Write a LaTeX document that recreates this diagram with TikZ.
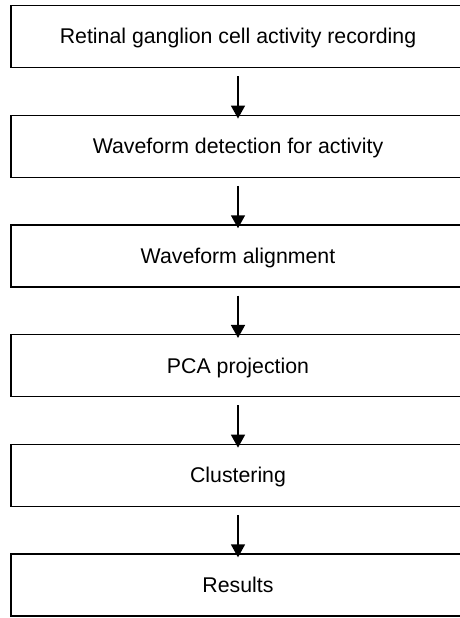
\documentclass[tikz,border=0pt]{standalone}
\usepackage{fontspec}
\setmainfont{Liberation Sans}
\usetikzlibrary{positioning,arrows.meta}

\begin{document}
\begin{tikzpicture}[>/.tip={Triangle[length=13pt,width=14pt]},
    stagebox/.style={draw,line width=1.3pt,minimum width=454pt,minimum height=62pt,inner sep=0pt,
      text height=15pt,text depth=0pt,font=\fontsize{21.3}{25}\selectfont},
    flow/.style={->,line width=1.6pt},
    node distance=46.4pt]
    % The page
    \useasboundingbox (0,0) rectangle (460pt,-618pt);
    % The stages
    \node[stagebox] (rec) at (238pt,-36.5pt) {Retinal ganglion cell activity recording};
    \node[stagebox,below=of rec] (det) {Waveform detection for activity};
    \node[stagebox,below=of det] (align) {Waveform alignment};
    \node[stagebox,below=of align] (pca) {PCA projection};
    \node[stagebox,below=of pca] (clust) {Clustering};
    \node[stagebox,below=of clust] (res) {Results};
    % The arrows
    \draw[flow] ([yshift=-8pt]rec.south) -- ([yshift=-4pt]det.north);
    \draw[flow] ([yshift=-8pt]det.south) -- ([yshift=-4pt]align.north);
    \draw[flow] ([yshift=-8pt]align.south) -- ([yshift=-4pt]pca.north);
    \draw[flow] ([yshift=-8pt]pca.south) -- ([yshift=-4pt]clust.north);
    \draw[flow] ([yshift=-8pt]clust.south) -- ([yshift=-4pt]res.north);
\end{tikzpicture}
\end{document}
